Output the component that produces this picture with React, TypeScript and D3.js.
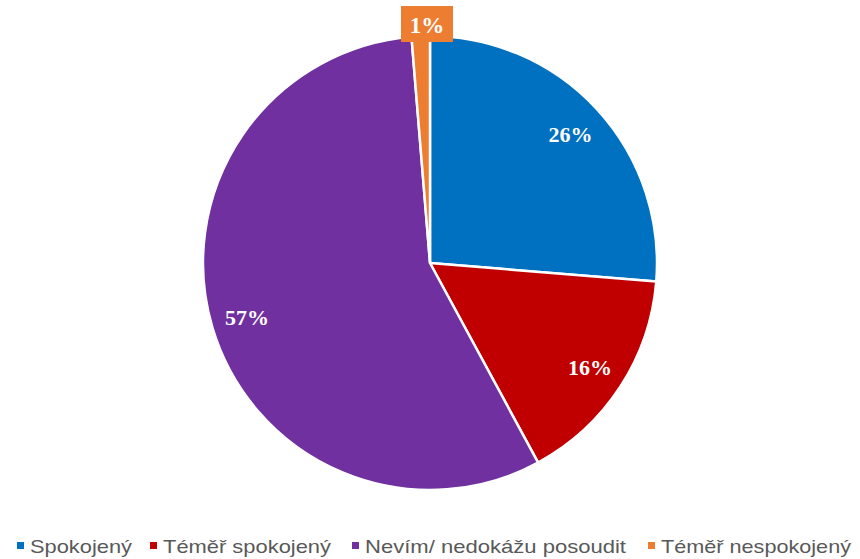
import React from "react";
import * as d3 from "d3";

const categories = ["Spokojený", "Téměř spokojený", "Nevím/ nedokážu posoudit", "Téměř nespokojený"];
const values = [26.3, 15.8, 56.6, 1.3];
const labels = ["26%", "16%", "57%", "1%"];
const colors = ["#0070C0", "#C00000", "#7030A0", "#ED7D31"];

const W = 860;
const H = 559;
const cx = 430;
const cy = 263;
const R = 227;

const legendX = [17, 150, 352, 648];
const legendW = [102, 168, 261, 190];

export default function App() {
  const pie = d3.pie<number>().sort(null).value((d) => d);
  const arcs = pie(values);
  const arc = d3.arc<d3.PieArcDatum<number>>().innerRadius(0).outerRadius(R);
  const labelArc = d3.arc<d3.PieArcDatum<number>>().innerRadius(382).outerRadius(0);
  return (
    <svg width={W} height={H} style={{ position: "absolute", left: 0, top: 0 }}>
      <rect width={W} height={H} fill="#fff" />
      <g transform={`translate(${cx},${cy})`}>
        {arcs.map((a, i) => (
          <path key={i} d={arc(a) || ""} fill={colors[i]} stroke="#fff" strokeWidth={2.5} strokeLinejoin="round" />
        ))}
        {arcs.map((a, i) => {
          if (i === 3) {
            const bx = -3;
            const by = -238;
            return (
              <g key={i}>
                <rect x={bx - 26} y={by - 19} width={52} height={36} fill={colors[i]} />
                <text x={bx} y={by + 8} textAnchor="middle" fill="#fff" fontFamily="Liberation Serif, serif" fontWeight="bold" fontSize={23}>
                  {labels[i]}
                </text>
              </g>
            );
          }
          const [lx, ly] = labelArc.centroid(a);
          return (
            <text key={i} x={lx} y={ly + 8} textAnchor="middle" fill="#fff" fontFamily="Liberation Serif, serif" fontWeight="bold" fontSize={22}>
              {labels[i]}
            </text>
          );
        })}
      </g>
      <g>
        {categories.map((c, i) => (
          <g key={i}>
            <rect x={legendX[i]} y={542} width={7} height={7} fill={colors[i]} />
            <text x={legendX[i] + 13} y={553} fill="#595959" fontFamily="Liberation Sans, Arial, sans-serif" fontSize={19} textLength={legendW[i]} lengthAdjust="spacingAndGlyphs">
              {c}
            </text>
          </g>
        ))}
      </g>
    </svg>
  );
}
